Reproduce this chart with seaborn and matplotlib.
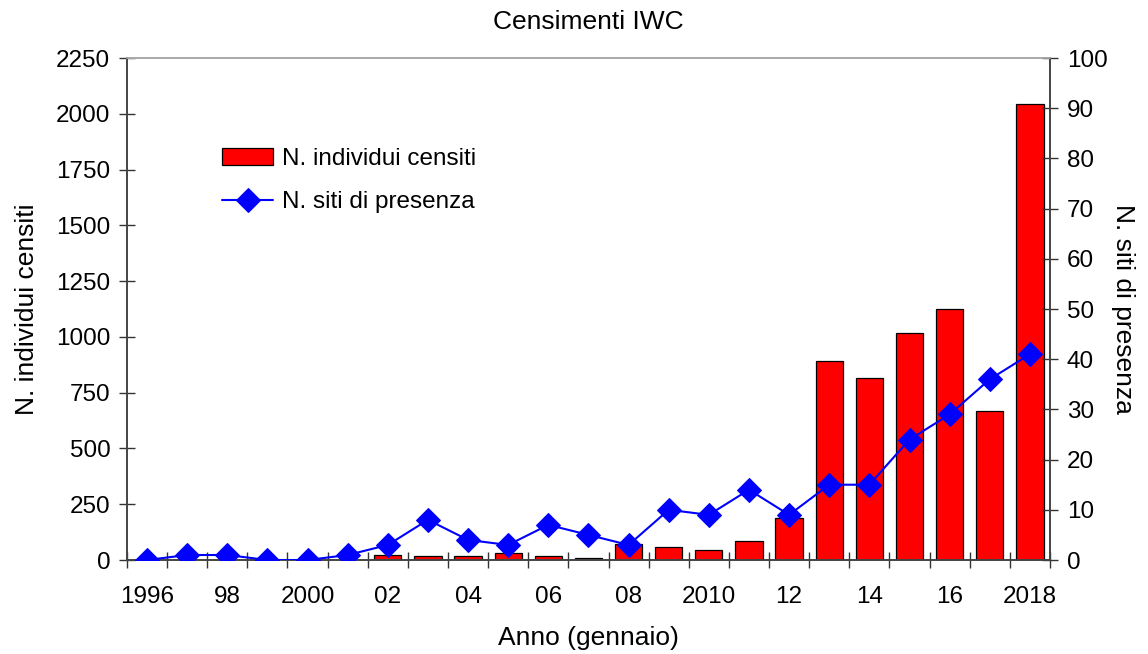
import numpy as np
import pandas as pd
import matplotlib
matplotlib.use('Agg')
import matplotlib.pyplot as plt
import seaborn as sns

years = list(range(1996, 2019))
individui = [0, 0, 0, 0, 0, 0, 24, 16, 16, 31, 16, 8, 70, 58, 45, 87, 188,
             892, 816, 1019, 1127, 669, 2043]
siti = [0, 1, 1, 0, 0, 1, 3, 8, 4, 3, 7, 5, 3, 10, 9, 14, 9, 15, 15, 24, 29, 36, 41]
xlabels = ['1996', '98', '2000', '02', '04', '06', '08', '2010', '12', '14', '16', '2018']

df = pd.DataFrame({'anno': years, 'individui': individui, 'siti': siti})
df['pos'] = np.arange(len(df))

sns.set_style('white')
plt.rcParams['font.family'] = ['Liberation Sans', 'DejaVu Sans']
plt.rcParams['text.color'] = 'black'
plt.rcParams['axes.labelcolor'] = 'black'
plt.rcParams['xtick.labelcolor'] = 'black'
plt.rcParams['ytick.labelcolor'] = 'black'
tick_fs = 17.5
lab_fs = 19

fig = plt.figure(figsize=(11.48, 6.54), dpi=100)
ax = fig.add_axes([0.1106, 0.1437, 0.8040, 0.7676])

sns.barplot(data=df, x='pos', y='individui', color='#ff0000', width=0.68,
            edgecolor='black', linewidth=0.9, saturation=1, ax=ax, zorder=2)
ax.set_xlim(-0.5, len(df) - 0.5)
ax.set_ylim(0, 2250)
ax.set_yticks(np.arange(0, 2251, 250))
ax.set_ylabel('N. individui censiti', fontsize=lab_fs, labelpad=12)
ax.set_xlabel('Anno (gennaio)', fontsize=lab_fs, labelpad=13)
ax.set_title('Censimenti IWC', fontsize=lab_fs, pad=21)

# ticks between categories, labels on the even years
ax.set_xticks(np.arange(-0.5, len(df), 1.0))
ax.set_xticklabels([])
ax.set_xticks(np.arange(0, len(df), 2), minor=True)
ax.set_xticklabels(xlabels, minor=True)
ax.tick_params(axis='x', which='major', direction='inout', length=12, width=1, color='#333333')
ax.tick_params(axis='x', which='minor', length=0, pad=19, labelsize=tick_fs)
ax.tick_params(axis='y', direction='inout', length=12, width=1, color='#333333', labelsize=tick_fs, pad=6)
ax.tick_params(left=True, bottom=True)

ax2 = ax.twinx()
sns.lineplot(data=df, x='pos', y='siti', color='#0000ff', marker='D', markersize=12,
             markeredgecolor='#0000ff', linewidth=1.5, ax=ax2, zorder=3)
ax2.set_ylim(0, 100)
ax2.set_yticks(np.arange(0, 101, 10))
ax2.set_ylabel('N. siti di presenza', fontsize=lab_fs, rotation=270, labelpad=20)
ax2.tick_params(axis='y', direction='inout', length=12, width=1, color='#333333', labelsize=tick_fs, right=True, pad=6)
ax2.set_xlim(-0.5, len(df) - 0.5)

for a in (ax, ax2):
    a.spines['left'].set_color('#444444')
    a.spines['right'].set_color('#444444')
    a.spines['bottom'].set_color('#444444')
    a.spines['top'].set_color('#aaaaaa')
    for s in a.spines.values():
        s.set_linewidth(1.2)

bar_handle = ax.patches[0]
line_handle = ax2.get_lines()[0]
ax.legend([bar_handle, line_handle], ['N. individui censiti', 'N. siti di presenza'],
          loc='upper left', bbox_to_anchor=(0.103, 0.82), frameon=False, fontsize=tick_fs,
          borderaxespad=0, borderpad=0,
          handlelength=2.1, handletextpad=0.35, labelspacing=0.85)

fig.savefig('out.png', dpi=100)
